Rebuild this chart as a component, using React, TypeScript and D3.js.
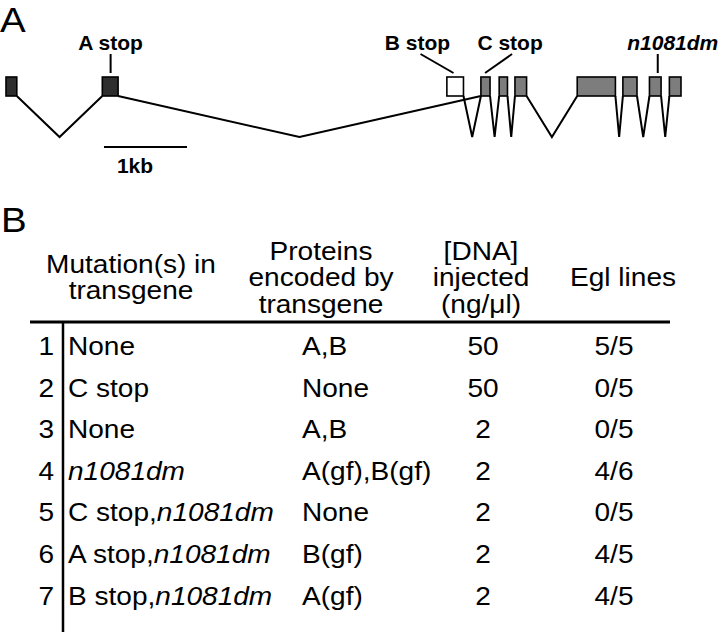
import { useEffect, useRef } from 'react';
import * as d3 from 'd3';

// Panel A: gene model, positions in kb
const exonStart = [0, 1.16, 5.31, 5.72, 5.94, 6.13, 6.88, 7.43, 7.75, 7.99];
const exonEnd = [0.13, 1.35, 5.51, 5.83, 6.04, 6.27, 7.34, 7.6, 7.89, 8.13];
const exonKind = ['dark', 'dark', 'open', 'gray', 'gray', 'gray', 'gray', 'gray', 'gray', 'gray'];
const introns: [number, number][] = [[0, 1], [1, 3], [2, 3], [3, 4], [4, 5], [5, 6], [6, 7], [7, 8], [8, 9]];

const siteNames = ['A stop', 'B stop', 'C stop', 'n1081dm'];
const siteKb = [1.26, 5.39, 5.77, 7.85];

// Panel B: table
const headers = [
  ['Mutation(s) in', 'transgene'],
  ['Proteins', 'encoded by', 'transgene'],
  ['[DNA]', 'injected', '(ng/μl)'],
  ['Egl lines'],
];
const rowIds = [1, 2, 3, 4, 5, 6, 7];
const mutPlain = ['None', 'C stop', 'None', '', 'C stop,', 'A stop,', 'B stop,'];
const mutItalic = ['', '', '', 'n1081dm', 'n1081dm', 'n1081dm', 'n1081dm'];
const proteins = ['A,B', 'None', 'A,B', 'A(gf),B(gf)', 'None', 'B(gf)', 'A(gf)'];
const dnaConc = [50, 50, 2, 2, 2, 2, 2];
const eglLines = ['5/5', '0/5', '0/5', '4/6', '0/5', '4/5', '4/5'];

const W = 720;
const H = 632;
const FONT = '"Liberation Sans", Arial, Helvetica, sans-serif';
const SX = 1.1; // the original type is a bit wider than Arial

export default function App() {
  const svgRef = useRef<SVGSVGElement>(null);

  useEffect(() => {
    if (!svgRef.current) return;
    const svg = d3.select(svgRef.current);
    svg.selectAll('*').remove();
    svg.attr('font-family', FONT);

    const txt = (x: number, y: number, s: string, size: number, anchor = 'start') =>
      svg.append('text').attr('transform', `translate(${x},${y}) scale(${SX},1)`)
        .attr('text-anchor', anchor).attr('font-size', size).attr('fill', '#000').text(s);

    // ---- panel A ----
    txt(0, 32, 'A', 35);
    const x = d3.scaleLinear([0, 8.13], [6, 681]);
    const yTop = 77, yBot = 96, yVee = 137;

    introns.forEach(([a, b]) => {
      const x0 = x(exonEnd[a]), x1 = x(exonStart[b]);
      svg.append('path')
        .attr('d', d3.line()([[x0, yBot], [(x0 + x1) / 2, yVee], [x1, yBot]]))
        .attr('fill', 'none').attr('stroke', '#000').attr('stroke-width', 2);
    });

    const fills: Record<string, string> = { dark: '#2e2e2e', gray: '#7d7d7d', open: '#fff' };
    exonStart.forEach((s, i) => {
      svg.append('rect').attr('x', x(s)).attr('y', yTop)
        .attr('width', x(exonEnd[i]) - x(s)).attr('height', yBot - yTop)
        .attr('fill', fills[exonKind[i]]).attr('stroke', '#000').attr('stroke-width', 1.6);
    });

    // mutation labels
    const labelDx = [0, -36, 25, 15];
    const leanDx = [0, -33, 27, 0];
    siteNames.forEach((name, i) => {
      const sx = x(siteKb[i]);
      svg.append('line').attr('x1', sx + leanDx[i]).attr('y1', 54).attr('x2', sx).attr('y2', 73)
        .attr('stroke', '#000').attr('stroke-width', 2);
      svg.append('text').attr('x', sx + labelDx[i]).attr('y', 50).attr('text-anchor', 'middle')
        .attr('font-size', 21).attr('font-weight', 'bold')
        .attr('font-style', i === 3 ? 'italic' : 'normal').text(name);
    });

    // scale bar
    svg.append('line').attr('x1', x(1.18)).attr('x2', x(2.18)).attr('y1', 147).attr('y2', 147)
      .attr('stroke', '#000').attr('stroke-width', 2);
    svg.append('text').attr('x', 135).attr('y', 173).attr('text-anchor', 'middle')
      .attr('font-size', 21).attr('font-weight', 'bold').text('1kb');

    // ---- panel B ----
    txt(1, 232, 'B', 35);
    const colX = [131, 321, 481, 623];
    const lineH = 26.5;
    headers.forEach((lines, c) => {
      const y0 = 286 - ((lines.length - 1) * lineH) / 2;
      lines.forEach((l, k) => txt(colX[c], y0 + k * lineH, l, 25.5, 'middle'));
    });

    svg.append('line').attr('x1', 30).attr('x2', 670).attr('y1', 322).attr('y2', 322)
      .attr('stroke', '#000').attr('stroke-width', 3);
    svg.append('line').attr('x1', 63).attr('x2', 63).attr('y1', 322).attr('y2', H)
      .attr('stroke', '#000').attr('stroke-width', 2.5);

    const y = d3.scaleLinear([0, 6], [355, 604.5]);
    rowIds.forEach((id, i) => {
      const ry = y(i);
      txt(54, ry, String(id), 25.5, 'end');
      const t = txt(68, ry, '', 25.5);
      if (mutPlain[i]) t.append('tspan').text(mutPlain[i]);
      if (mutItalic[i]) t.append('tspan').attr('font-style', 'italic').text(mutItalic[i]);
      txt(302, ry, proteins[i], 25.5);
      txt(483, ry, String(dnaConc[i]), 25.5, 'middle');
      txt(614, ry, eglLines[i], 25.5, 'middle');
    });
  }, []);

  return (
    <svg ref={svgRef} width={W} height={H}
      style={{ position: 'absolute', left: 0, top: 0, background: '#fff' }} />
  );
}
